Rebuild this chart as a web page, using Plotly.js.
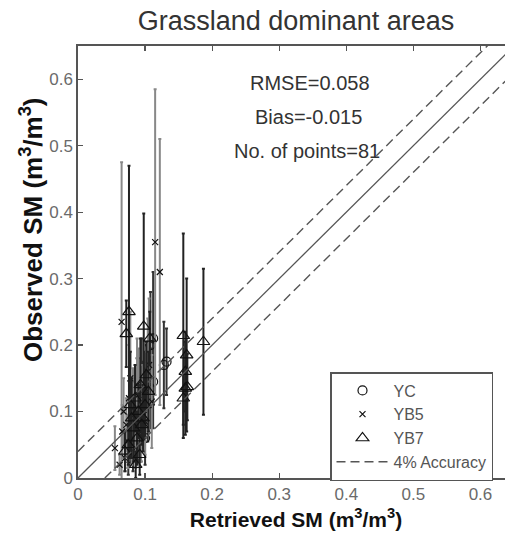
<!DOCTYPE html>
<html>
<head>
<meta charset="utf-8">
<script src="https://cdn.plot.ly/plotly-3.0.1.min.js"></script>
<style>
html,body{margin:0;padding:0;overflow:hidden;background:#fff;width:505px;height:538px;}
#chart{width:516px;height:538px;}
</style>
</head>
<body>
<div id="chart"></div>
<script>
// YC station (circles)
const ycX   = [0.128,0.132,0.108,0.112,0.090,0.095,0.100,0.085,0.088,0.092,0.098,0.102,0.080,0.083,0.087,0.094,0.099,0.104,0.108,0.078,0.082,0.086,0.091,0.096,0.100,0.112,0.075];
const ycY   = [0.170,0.175,0.200,0.210,0.120,0.130,0.140,0.100,0.110,0.090,0.105,0.150,0.080,0.070,0.060,0.085,0.095,0.125,0.135,0.050,0.040,0.065,0.075,0.115,0.060,0.145,0.030];
const ycErr = [0.065,0.050,0.080,0.100,0.060,0.080,0.050,0.050,0.070,0.040,0.060,0.050,0.050,0.040,0.030,0.060,0.050,0.070,0.060,0.030,0.030,0.040,0.050,0.060,0.040,0.070,0.025];

// YB5 station (crosses)
const yb5X   = [0.115,0.122,0.065,0.068,0.072,0.076,0.080,0.084,0.088,0.092,0.096,0.100,0.104,0.070,0.074,0.078,0.082,0.086,0.090,0.094,0.098,0.102,0.106,0.110,0.055,0.062,0.066];
const yb5Y   = [0.355,0.310,0.235,0.100,0.080,0.120,0.060,0.090,0.140,0.070,0.110,0.085,0.160,0.030,0.055,0.150,0.105,0.045,0.125,0.065,0.095,0.130,0.170,0.115,0.045,0.020,0.070];
const yb5Err = [0.230,0.200,0.240,0.050,0.040,0.080,0.040,0.050,0.070,0.040,0.060,0.050,0.080,0.020,0.040,0.100,0.060,0.030,0.070,0.040,0.050,0.060,0.100,0.070,0.033,0.015,0.040];

// YB7 station (triangles)
const yb7X   = [0.076,0.072,0.098,0.107,0.157,0.187,0.162,0.160,0.163,0.157,0.160,0.085,0.090,0.095,0.080,0.100,0.088,0.075,0.093,0.083,0.105,0.070,0.097,0.086,0.102,0.078,0.092];
const yb7Y   = [0.250,0.217,0.228,0.210,0.214,0.205,0.185,0.160,0.137,0.120,0.135,0.120,0.100,0.080,0.090,0.110,0.060,0.050,0.140,0.075,0.130,0.040,0.090,0.020,0.155,0.110,0.035];
const yb7Err = [0.220,0.050,0.170,0.040,0.154,0.110,0.115,0.060,0.050,0.040,0.070,0.050,0.040,0.030,0.060,0.050,0.040,0.030,0.070,0.050,0.060,0.030,0.050,0.020,0.050,0.080,0.030];

const legendNames = ["YC","YB5","YB7","4% Accuracy"];
const stats = ["RMSE=0.058","Bias=-0.015","No. of points=81"];
const lineX = [0, 0.65];
const accuracy = 0.04;
const xTicks = [0,0.1,0.2,0.3,0.4,0.5,0.6];
const yTicks = [0,0.1,0.2,0.3,0.4,0.5,0.6];

const FONT = 'Liberation Sans, Arial, sans-serif';

function errTrace(x,y,err,name,symbol,size,ecol){
  return {
    x:x, y:y, name:name, type:'scatter', mode:'markers',
    marker:{symbol:symbol, size:size, color:'#111', line:{color:'#111', width:1.2}},
    error_y:{type:'data', array:err, visible:true, color:ecol, thickness:2, width:1.5}
  };
}

const traces = [
  errTrace(ycX, ycY, ycErr, legendNames[0], 'circle-open', 9, '#333'),
  errTrace(yb5X, yb5Y, yb5Err, legendNames[1], 'x-thin-open', 6, '#888'),
  errTrace(yb7X, yb7Y, yb7Err, legendNames[2], 'triangle-up-open', 11, '#222'),
  {x:lineX, y:lineX, mode:'lines', type:'scatter', showlegend:false,
   line:{color:'#555', width:1.3}, hoverinfo:'skip'},
  {x:[lineX[0], lineX[1], null, lineX[0]+accuracy, lineX[1]],
   y:[lineX[0]+accuracy, lineX[1]+accuracy, null, lineX[0], lineX[1]-accuracy],
   mode:'lines', type:'scatter', name:legendNames[3],
   line:{color:'#555', width:1.4, dash:'9px,5px'}, connectgaps:false}
];

const axisCommon = {
  range:[0,0.65], showgrid:false, zeroline:false, showline:true, mirror:'ticks',
  linecolor:'#555', linewidth:1.6, ticks:'inside', ticklen:5, tickwidth:1.3, tickcolor:'#555',
  tickfont:{family:FONT, size:17, color:'#6a6a6a'}
};

const layout = {
  width:516, height:538,
  margin:{l:78, r:2, t:46, b:60},
  paper_bgcolor:'#fff', plot_bgcolor:'#fff',
  font:{family:FONT},
  title:{text:'Grassland dominant areas', x:296/516, xanchor:'center', xref:'container',
         y:1-21/538, yref:'container', yanchor:'middle',
         font:{family:FONT, size:27, color:'#333'}},
  xaxis:Object.assign({}, axisCommon, {tickvals:xTicks, ticktext:xTicks.map(String),
         title:{text:'<b>Retrieved SM (m<sup>3</sup>/m<sup>3</sup>)</b>', standoff:9,
                font:{family:FONT, size:21, color:'#111'}}}),
  yaxis:Object.assign({}, axisCommon, {tickvals:yTicks, ticktext:yTicks.map(String)}),
  showlegend:true,
  legend:{x:(330-78)/436, xanchor:'left', y:(478-372)/432, yanchor:'top',
          bgcolor:'#fff', bordercolor:'#555', borderwidth:1.5,
          font:{family:FONT, size:16, color:'#555'},
          itemwidth:52, entrywidth:170, entrywidthmode:'pixels', tracegroupgap:0},
  annotations:[
    {text:stats[0], x:(310-78)/436, y:(478-70)/432, xref:'paper', yref:'paper', showarrow:false,
     font:{size:20, color:'#333'}},
    {text:stats[1], x:(308-78)/436, y:(478-104)/432, xref:'paper', yref:'paper', showarrow:false,
     font:{size:20, color:'#333'}},
    {text:stats[2], x:(307-78)/436, y:(478-138)/432, xref:'paper', yref:'paper', showarrow:false,
     font:{size:20, color:'#333'}},
    {text:'<b>Observed SM (m<sup>3</sup>/m<sup>3</sup>)</b>', textangle:-90,
     x:(31-78)/436, xref:'paper', y:(478-230)/432, yref:'paper', showarrow:false,
     xanchor:'center', yanchor:'middle',
     font:{size:26, color:'#111'}}
  ]
};

Plotly.newPlot('chart', traces, layout, {displayModeBar:false, staticPlot:true});
</script>
</body>
</html>
